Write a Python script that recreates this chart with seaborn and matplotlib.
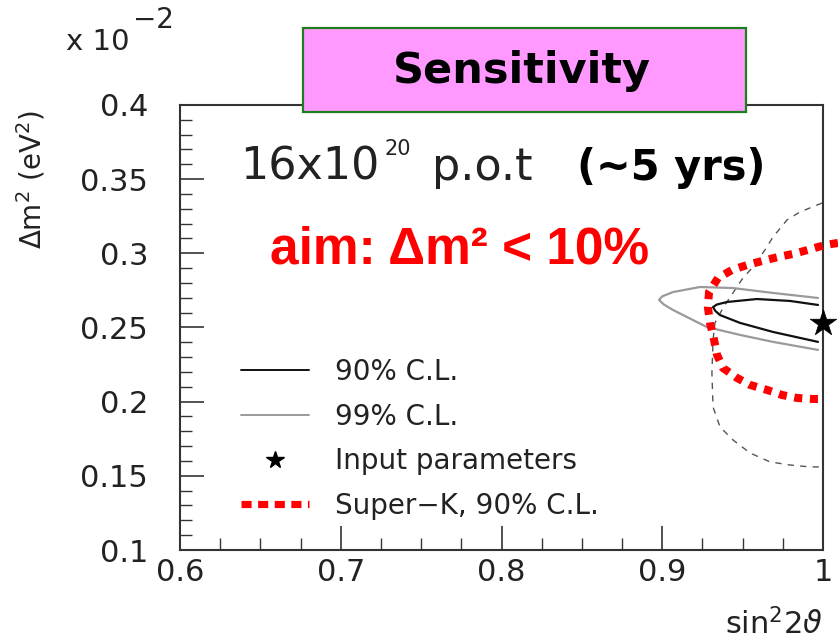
import matplotlib
matplotlib.use("Agg")
import matplotlib.pyplot as plt
import seaborn as sns
import pandas as pd
from matplotlib.lines import Line2D
from matplotlib.patches import Rectangle
from matplotlib.ticker import FixedLocator, FixedFormatter, MultipleLocator

# ---- contour data (sin^2 2theta, delta m^2 in units of 1e-2 eV^2) ----
cl90_x = [0.9969, 0.9795, 0.9589, 0.9403, 0.9340, 0.9316, 0.9330, 0.9359,
          0.9484, 0.9689, 0.9969]
cl90_y = [0.2652, 0.2679, 0.2692, 0.2672, 0.2655, 0.2638, 0.2612, 0.2584,
          0.2531, 0.2470, 0.2403]

cl99_x = [0.9969, 0.9689, 0.9440, 0.9235, 0.9067, 0.9000, 0.8980, 0.9010,
          0.9067, 0.9278, 0.9484, 0.9689, 0.9969]
cl99_y = [0.2699, 0.2733, 0.2766, 0.2773, 0.2739, 0.2710, 0.2686, 0.2655,
          0.2618, 0.2503, 0.2450, 0.2403, 0.2349]

sk90_x = [1.0093, 1.0012, 0.9907, 0.9813, 0.9720, 0.9620, 0.9527, 0.9434,
          0.9347, 0.9291, 0.9284, 0.9297, 0.9316, 0.9341, 0.9378, 0.9465,
          0.9546, 0.9652, 0.9745, 0.9838, 0.9938, 0.9994]
sk90_y = [0.3070, 0.3056, 0.3023, 0.2996, 0.2975, 0.2948, 0.2921, 0.2888,
          0.2834, 0.2739, 0.2638, 0.2531, 0.2450, 0.2315, 0.2227, 0.2160,
          0.2113, 0.2079, 0.2045, 0.2025, 0.2018, 0.2018]

skold_x = [0.9994, 0.9857, 0.9776, 0.9689, 0.9639, 0.9565, 0.9502, 0.9440,
           0.9378, 0.9328, 0.9316, 0.9309, 0.9316, 0.9359, 0.9440, 0.9546,
           0.9670, 0.9795, 0.9919, 0.9994]
skold_y = [0.3339, 0.3279, 0.3225, 0.3110, 0.3023, 0.2908, 0.2834, 0.2733,
           0.2632, 0.2531, 0.2416, 0.2194, 0.1964, 0.1830, 0.1742, 0.1654,
           0.1594, 0.1573, 0.1560, 0.1560]

input_x = [1.0]
input_y = [0.253]

x_ticks = [0.6, 0.7, 0.8, 0.9, 1.0]
x_tick_labels = ["0.6", "0.7", "0.8", "0.9", "1"]
y_ticks = [0.1, 0.15, 0.2, 0.25, 0.3, 0.35, 0.4]
y_tick_labels = ["0.1", "0.15", "0.2", "0.25", "0.3", "0.35", "0.4"]

legend_labels = ["90% C.L.", "99% C.L.", "Input parameters", "Super\u2212K, 90% C.L."]

# ---- style ----
sns.set_style("white")
plt.rcParams["font.family"] = ["DejaVu Sans"]
plt.rcParams["mathtext.fontset"] = "dejavusans"

W, H = 838, 643
fig = plt.figure(figsize=(W / 100, H / 100), dpi=100)


def fx(px):
    return px / W


def fy(py):
    return 1 - py / H


ax = fig.add_axes([fx(180), fy(550), 643 / W, 445 / H])
ax.set_facecolor("white")

RED = "#ff0000"

# old Super-K region (thin dashed)
sns.lineplot(x=skold_x, y=skold_y, sort=False, estimator=None, ax=ax,
             color="#555555", lw=1.0, zorder=2)
ax.lines[-1].set_dashes([4.5, 4.5])

# 99% and 90% C.L. contours
sns.lineplot(x=cl99_x, y=cl99_y, sort=False, estimator=None, ax=ax,
             color="#9a9a9a", lw=1.6, zorder=3)
sns.lineplot(x=cl90_x, y=cl90_y, sort=False, estimator=None, ax=ax,
             color="#111111", lw=1.6, zorder=4)

# Super-K 90% C.L. (thick red dotted)
sns.lineplot(x=sk90_x, y=sk90_y, sort=False, estimator=None, ax=ax,
             color=RED, lw=5.8, zorder=5)
sk_line = ax.lines[-1]
sk_line.set_dashes([1.0, 0.95])
sk_line.set_dash_capstyle("butt")
sk_line.set_clip_on(False)

# input parameters
sns.scatterplot(x=input_x, y=input_y, ax=ax, marker="*", s=400,
                color="black", edgecolor="black", linewidth=0.5,
                zorder=6, clip_on=False)

ax.set_xlim(0.6, 1.0)
ax.set_ylim(0.1, 0.4)
ax.set_xlabel("")
ax.set_ylabel("")

ax.xaxis.set_major_locator(FixedLocator(x_ticks))
ax.xaxis.set_major_formatter(FixedFormatter(x_tick_labels))
ax.xaxis.set_minor_locator(MultipleLocator(0.025))
ax.yaxis.set_major_locator(FixedLocator(y_ticks))
ax.yaxis.set_major_formatter(FixedFormatter(y_tick_labels))
ax.yaxis.set_minor_locator(MultipleLocator(0.01))

ax.tick_params(which="both", direction="in", bottom=True, left=True,
               top=False, right=False, colors="#333333", labelcolor="#222222")
ax.tick_params(which="major", length=17.5, width=1.2, labelsize=22)
ax.tick_params(which="minor", length=8.6, width=1.0)
ax.tick_params(axis="y", which="major", pad=23)
ax.tick_params(axis="x", which="major", pad=6)

for side, sp in ax.spines.items():
    sp.set_visible(True)
    sp.set_color("#333333")
    sp.set_linewidth(1.5)

# legend
handles = [
    Line2D([], [], color="#111111", lw=1.4),
    Line2D([], [], color="#9a9a9a", lw=1.4),
    Line2D([], [], color="black", marker="*", ms=13, ls="none"),
    Line2D([], [], color=RED, lw=5.2, dashes=[1.4, 0.9], dash_capstyle="butt"),
]
leg = ax.legend(handles=handles, labels=legend_labels, frameon=False,
                loc="upper left", bbox_to_anchor=(fx(241), fy(358)),
                bbox_transform=fig.transFigure, fontsize=20,
                handlelength=2.45, handletextpad=0.95, labelspacing=0.6,
                borderpad=0, borderaxespad=0)
for t in leg.get_texts():
    t.set_color("#222222")

# axis titles and exponent
fig.text(fx(66), fy(50), "x 10", fontsize=21, color="#222222", va="baseline")
fig.text(fx(133), fy(28), "\u22122", fontsize=20, color="#222222", va="baseline")
fig.text(fx(31), fy(180), r"$\Delta$m$^2$ (eV$^2$)", fontsize=20,
         color="#222222", rotation=90, ha="center", va="center")
fig.text(fx(823), fy(634), r"sin$^2$2$\vartheta$", fontsize=22,
         color="#222222", ha="right", va="baseline")

# annotations inside the plot
fig.text(fx(240), fy(180), "16x10", fontsize=32, color="#222222", va="baseline")
fig.text(fx(384), fy(155), "20", fontsize=15, color="#222222", va="baseline")
fig.text(fx(432), fy(180), "p.o.t", fontsize=32, color="#222222", va="baseline")
fig.text(fx(577), fy(180), "(~5 yrs)", fontsize=30, fontweight="bold",
         color="black", va="baseline")
fig.text(fx(270), fy(263), "aim: \u0394m\u00b2 < 10%", fontsize=37,
         fontweight="bold", color=RED, va="baseline",
         family=["Liberation Sans", "DejaVu Sans"])

# title box
box = Rectangle((fx(303), fy(112)), (746 - 303) / W, (112 - 28) / H,
                transform=fig.transFigure, facecolor="#ff99ff",
                edgecolor="#1c7f1c", lw=1.6, zorder=10)
fig.add_artist(box)
fig.text(fx(522), fy(83), "Sensitivity", fontsize=31, fontweight="bold",
         color="black", ha="center", va="baseline", zorder=11)

fig.savefig("out.png", dpi=100, facecolor="white")
